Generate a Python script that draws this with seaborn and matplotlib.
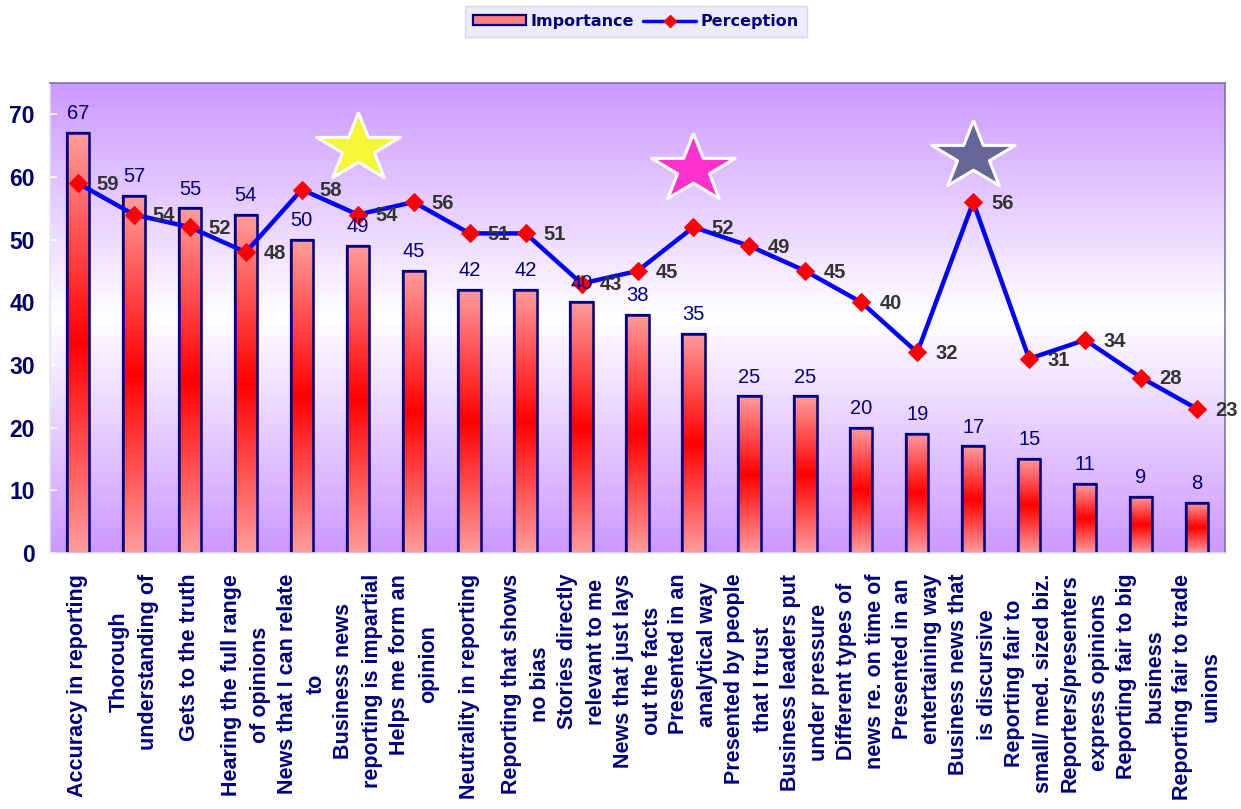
import numpy as np
import pandas as pd
import matplotlib
matplotlib.use("Agg")
import matplotlib.pyplot as plt
import seaborn as sns
from matplotlib.colors import LinearSegmentedColormap
from matplotlib.patches import Patch
from matplotlib.lines import Line2D

categories = [
    "Accuracy in reporting",
    "Thorough\nunderstanding of",
    "Gets to the truth",
    "Hearing the full range\nof opinions",
    "News that I can relate\nto",
    "Business news\nreporting is impartial",
    "Helps me form an\nopinion",
    "Neutrality in reporting",
    "Reporting that shows\nno bias",
    "Stories directly\nrelevant to me",
    "News that just lays\nout the facts",
    "Presented in an\nanalytical way",
    "Presented by people\nthat I trust",
    "Business leaders put\nunder pressure",
    "Different types of\nnews re. on time of",
    "Presented in an\nentertaining way",
    "Business news that\nis discursive",
    "Reporting fair to\nsmall/ med. sized biz.",
    "Reporters/presenters\nexpress opinions",
    "Reporting fair to big\nbusiness",
    "Reporting fair to trade\nunions",
]
importance = [67, 57, 55, 54, 50, 49, 45, 42, 42, 40, 38, 35, 25, 25, 20, 19, 17, 15, 11, 9, 8]
perception = [59, 54, 52, 48, 58, 54, 56, 51, 51, 43, 45, 52, 49, 45, 40, 32, 56, 31, 34, 28, 23]

# decorative stars: category index and level
star_cats = [5, 11, 16]
star_levels = [64.7, 61.2, 63.3]
star_colors = ["#F5F53A", "#FF33CC", "#666699"]

sns.set_theme(style="white")
plt.rcParams["font.family"] = ["Liberation Sans", "DejaVu Sans"]

NAVY = "#000080"
n = len(categories)
df = pd.DataFrame({"cat": categories, "imp": importance, "per": perception})

fig = plt.figure(figsize=(12.41, 8.09), dpi=100)
ax = fig.add_axes([50 / 1241, 1 - 553 / 809, 1175 / 1241, (553 - 83) / 809])

YMAX = 75
# background gradient: lavender - white - lavender
bg_cmap = LinearSegmentedColormap.from_list("bg", ["#CC99FF", "#FFFFFF", "#CC99FF"])
grad = np.linspace(0, 1, 256).reshape(-1, 1)
ax.imshow(grad, extent=[-0.5, n - 0.5, 0, YMAX], origin="lower", cmap=bg_cmap,
          aspect="auto", zorder=0, interpolation="bicubic")

sns.barplot(data=df, x="cat", y="imp", ax=ax, width=0.4, color="#FF9999",
            edgecolor=NAVY, linewidth=1.6, zorder=2)

bar_cmap = LinearSegmentedColormap.from_list("bar", ["#FF9C9C", "#FF0000", "#FF9C9C"])
for p in list(ax.patches):
    x0, y0 = p.get_x(), p.get_y()
    w, h = p.get_width(), p.get_height()
    im = ax.imshow(grad, extent=[x0, x0 + w, y0, y0 + h], origin="lower", cmap=bar_cmap,
                   aspect="auto", zorder=2.1, interpolation="bicubic")
    im.set_clip_path(p)
    ax.add_patch(plt.Rectangle((x0, y0), w, h, fill=False, edgecolor=NAVY, linewidth=1.8, zorder=2.2))

xs = np.arange(n)
sns.lineplot(x=xs, y=perception, ax=ax, color="#0000FF", linewidth=3.2, marker="D",
             markersize=9, markerfacecolor="#FF0000", markeredgecolor="#FF0000", zorder=4)

for i, v in enumerate(importance):
    ax.annotate(str(v), (i, v), xytext=(0, 7), textcoords="offset points", ha="center",
                va="bottom", fontsize=14.5, color=NAVY, zorder=5)
for i, v in enumerate(perception):
    ax.annotate(str(v), (i, v), xytext=(13, -1), textcoords="offset points", ha="left",
                va="center", fontsize=14.5, color="#333333", fontweight="bold", zorder=5)

# stretched star marker
ang = np.pi / 2 + np.arange(10) * np.pi / 5
rad = np.where(np.arange(10) % 2 == 0, 1.0, 0.381966)
star_verts = np.column_stack([1.22 * rad * np.cos(ang), rad * np.sin(ang)])
star_verts = np.vstack([star_verts, star_verts[:1]])
for c, lv, col in zip(star_cats, star_levels, star_colors):
    ax.plot([c], [lv], marker=star_verts, markersize=60, color=col, markeredgecolor="white",
            markeredgewidth=2.2, linestyle="none", zorder=6, clip_on=False)

ax.set_xlim(-0.5, n - 0.5)
ax.set_ylim(0, YMAX)
ax.set_xlabel("")
ax.set_ylabel("")
ax.set_yticks(range(0, 71, 10))
ax.set_yticklabels([str(t) for t in range(0, 71, 10)], fontsize=16.5, fontweight="bold", color="#000066")
ax.set_xticks(xs)
ax.set_xticklabels(categories, rotation=90, fontsize=15.5, fontweight="bold", color=NAVY,
                   linespacing=1.5)
ax.set_xticks(np.arange(-0.5, n, 1.0), minor=True)
ax.tick_params(axis="x", which="major", length=0, pad=15)
ax.tick_params(axis="x", which="minor", direction="in", length=5, color="white", width=1.2)
ax.tick_params(axis="y", direction="in", length=5, color="white", width=1.2, pad=11, left=True)

for side in ["top", "right"]:
    ax.spines[side].set_color("#7777AA")
    ax.spines[side].set_linewidth(1.2)
for side in ["left", "bottom"]:
    ax.spines[side].set_color("#E6E6F2")
    ax.spines[side].set_linewidth(1.2)

handles = [
    Patch(facecolor="#FF8080", edgecolor=NAVY, linewidth=1.6),
    Line2D([0], [0], color="#0000FF", linewidth=2.5, marker="D", markersize=6,
           markerfacecolor="#FF0000", markeredgecolor="#FF0000"),
]
leg = fig.legend(handles, ["Importance", "Perception"], loc="upper center",
                 bbox_to_anchor=(636 / 1241, 1 + 2 / 809), ncol=2, frameon=True,
                 fancybox=False, handlelength=3.3, handleheight=0.6, columnspacing=0.6,
                 handletextpad=0.3, borderpad=0.5,
                 prop={"family": "DejaVu Sans", "weight": "bold", "size": 11.5})
leg.get_frame().set_facecolor("#E6E6FA")
leg.get_frame().set_edgecolor("#D0D0E0")
for t in leg.get_texts():
    t.set_color(NAVY)

fig.savefig("out.png", dpi=100)
